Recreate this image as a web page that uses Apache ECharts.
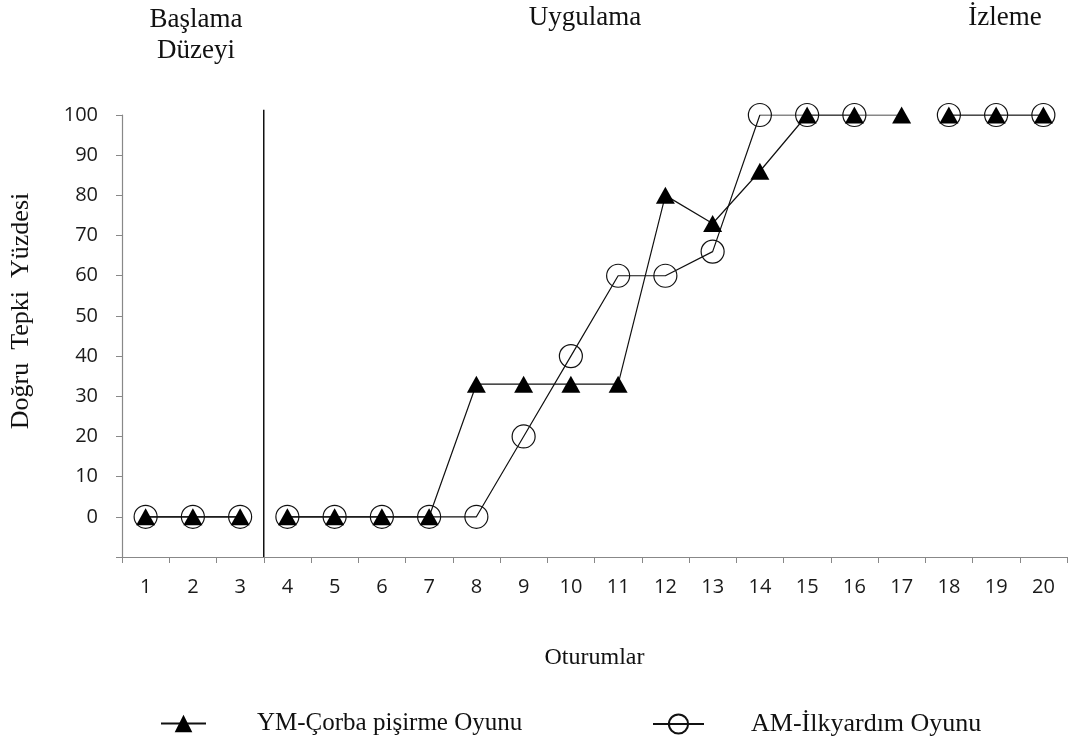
<!DOCTYPE html>
<html>
<head>
<meta charset="utf-8">
<script src="https://cdn.jsdelivr.net/npm/echarts/dist/echarts.min.js"></script>
<style>
  html, body { margin: 0; padding: 0; background: #fff; }
  #main { width: 1068px; height: 744px; }
</style>
</head>
<body>
<div id="main"></div>
<script>
// oturumlar (x ekseni)
var sessions = ['1','2','3','4','5','6','7','8','9','10','11','12','13','14','15','16','17','18','19','20'];
// YM - Çorba pişirme Oyunu
var ymValues = [0,0,0,0,0,0,0,33,33,33,33,80,73,86,100,100,100,100,100,100];
// AM - İlkyardım Oyunu (17. oturum yok)
var amValues = [0,0,0,0,0,0,0,0,20,40,60,60,66,100,100,100,null,100,100,100];
// evreler: başlama düzeyi, uygulama, izleme (oturum indeksleri)
var phases = [[0,2],[3,16],[17,19]];
// evre çizgisi 3. ve 4. oturum arasında
var phaseBoundary = 3.5;
var phaseLineTop = 101.3;
var yTicks = {min: -10, max: 100, interval: 10};

var ymName = 'YM-Çorba pişirme Oyunu';
var amName = 'AM-İlkyardım Oyunu';
var serif = '"Liberation Serif", "DejaVu Serif", serif';
var sans = '"Open Sans", sans-serif';

var myChart = echarts.init(document.getElementById('main'));

function phaseData(values, p){
    return values.map(function(v, i){
        return (i >= p[0] && i <= p[1]) ? v : null;
    });
}

var series = [];
phases.forEach(function(p){
    series.push({
        name: amName,
        type: 'line',
        data: phaseData(amValues, p),
        symbol: 'circle',
        symbolSize: 23,
        z: 3,
        itemStyle: { color: 'rgba(0,0,0,0)', borderColor: '#111', borderWidth: 1.2 },
        lineStyle: { color: '#111', width: 1.2 },
        emphasis: { disabled: true }
    });
    series.push({
        name: ymName,
        type: 'line',
        data: phaseData(ymValues, p),
        symbol: 'triangle',
        symbolSize: [19, 17],
        z: 4,
        itemStyle: { color: '#000' },
        lineStyle: { color: '#111', width: 1.2 },
        emphasis: { disabled: true }
    });
});

// evre çizgisi (gizli deger ekseni uzerinde)
series.push({
    type: 'line',
    xAxisIndex: 1,
    data: [[phaseBoundary, yTicks.min], [phaseBoundary, phaseLineTop]],
    clip: false,
    silent: true,
    symbol: 'none',
    z: 2,
    lineStyle: { color: '#111', width: 1.5 }
});

option = {
    backgroundColor: '#FFFFFF',
    animation: false,
    grid: {
        left: 122,
        right: 1,
        top: 115,
        bottom: 187
    },
    legend: [
        {
            data: [ymName],
            left: 155,
            top: 706,
            itemWidth: 45,
            itemHeight: 22,
            textStyle: { fontFamily: serif, fontSize: 25, color: '#111', padding: [0,0,0,46] }
        },
        {
            data: [amName],
            left: 647,
            top: 706,
            itemWidth: 51,
            itemHeight: 24,
            textStyle: { fontFamily: serif, fontSize: 26, color: '#111', padding: [0,0,0,42] }
        }
    ],
    xAxis: [
        {
            type: 'category',
            data: sessions,
            boundaryGap: true,
            name: 'Oturumlar',
            nameLocation: 'middle',
            nameGap: 89,
            nameTextStyle: { fontFamily: serif, fontSize: 24, color: '#111' },
            axisLine: { onZero: false, lineStyle: { color: '#888', width: 1.2 } },
            axisTick: { show: true, length: 6, lineStyle: { color: '#888' } },
            axisLabel: { fontFamily: sans, fontSize: 20, color: '#1a1a1a', margin: 20 },
            splitLine: { show: false }
        },
        {
            type: 'value',
            min: 0.5,
            max: sessions.length + 0.5,
            show: false
        }
    ],
    yAxis: {
        type: 'value',
        min: yTicks.min,
        max: yTicks.max,
        interval: yTicks.interval,
        axisLine: { show: true, onZero: false, lineStyle: { color: '#888', width: 1.2 } },
        axisTick: { show: true, length: 6, lineStyle: { color: '#888' } },
        axisLabel: {
            fontFamily: sans, fontSize: 20, color: '#1a1a1a', margin: 24,
            formatter: function(v){ return v < 0 ? '' : v; }
        },
        splitLine: { show: false }
    },
    graphic: [
        { type: 'text', x: 196, y: 4, style: { text: 'Başlama\nDüzeyi', font: '27px ' + serif, fill: '#111', textAlign: 'center', textVerticalAlign: 'top', lineHeight: 31 } },
        { type: 'text', x: 585, y: 4, style: { text: 'Uygulama', font: '27px ' + serif, fill: '#111', textAlign: 'center', textVerticalAlign: 'top' } },
        { type: 'text', x: 1005, y: 4, style: { text: 'İzleme', font: '27px ' + serif, fill: '#111', textAlign: 'center', textVerticalAlign: 'top' } },
        { type: 'text', x: 21, y: 311, rotation: Math.PI / 2, style: { text: 'Doğru  Tepki  Yüzdesi', font: '26px ' + serif, fill: '#111', textAlign: 'center', textVerticalAlign: 'middle' } }
    ],
    series: series
};
myChart.setOption(option, true);
</script>
</body>
</html>
